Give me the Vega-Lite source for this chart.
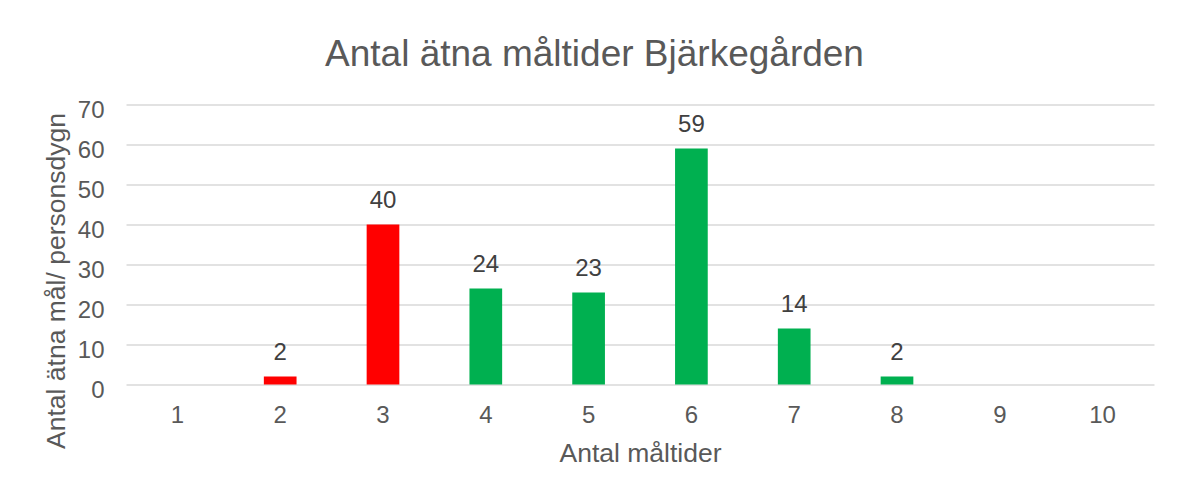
{
  "$schema": "https://vega.github.io/schema/vega-lite/v6.json",
  "width": 1028,
  "height": 280,
  "autosize": {"type": "none"},
  "padding": {"left": 126, "top": 104.5, "right": 28, "bottom": 111.5},
  "background": "white",
  "title": {
    "text": "Antal ätna måltider Bjärkegården",
    "anchor": "middle",
    "frame": "group",
    "dx": -45.5,
    "dy": 44,
    "baseline": "alphabetic",
    "offset": 39.5,
    "font": "Liberation Sans",
    "fontSize": 37,
    "fontWeight": "normal",
    "color": "#595959"
  },
  "data": {
    "values": [
      {"antal": 1, "värde": 0, "grupp": "under 4"},
      {"antal": 2, "värde": 2, "grupp": "under 4"},
      {"antal": 3, "värde": 40, "grupp": "under 4"},
      {"antal": 4, "värde": 24, "grupp": "4 eller fler"},
      {"antal": 5, "värde": 23, "grupp": "4 eller fler"},
      {"antal": 6, "värde": 59, "grupp": "4 eller fler"},
      {"antal": 7, "värde": 14, "grupp": "4 eller fler"},
      {"antal": 8, "värde": 2, "grupp": "4 eller fler"},
      {"antal": 9, "värde": 0, "grupp": "4 eller fler"},
      {"antal": 10, "värde": 0, "grupp": "4 eller fler"}
    ]
  },
  "encoding": {
    "x": {
      "field": "antal",
      "type": "ordinal",
      "sort": "ascending",
      "scale": {"paddingInner": 0, "paddingOuter": 0},
      "axis": {
        "title": "Antal måltider",
        "labelAngle": 0,
        "ticks": false,
        "domain": false,
        "grid": false,
        "labelFont": "Liberation Sans",
        "labelFontSize": 24,
        "labelColor": "#595959",
        "labelBaseline": "alphabetic",
        "labelPadding": 37.5,
        "titleFont": "Liberation Sans",
        "titleFontSize": 26.5,
        "titleFontWeight": "normal",
        "titleColor": "#595959",
        "titleBaseline": "alphabetic",
        "titleAnchor": "middle",
        "titleY": 77
      }
    },
    "y": {
      "field": "värde",
      "type": "quantitative",
      "scale": {"domain": [0, 70], "nice": false},
      "axis": {
        "title": "Antal ätna mål/ personsdygn",
        "values": [0, 10, 20, 30, 40, 50, 60, 70],
        "ticks": false,
        "domain": false,
        "grid": true,
        "gridColor": "#d9d9d9",
        "gridWidth": 1.4,
        "labelFont": "Liberation Sans",
        "labelFontSize": 24,
        "labelColor": "#595959",
        "labelBaseline": "alphabetic",
        "labelOffset": 12.5,
        "labelPadding": 22,
        "titleFont": "Liberation Sans",
        "titleFontSize": 26.5,
        "titleFontWeight": "normal",
        "titleColor": "#595959",
        "titleAngle": -90,
        "titleAlign": "center",
        "titleBaseline": "alphabetic",
        "titleX": -62,
        "titleY": 176
      }
    }
  },
  "layer": [
    {
      "mark": {"type": "bar", "width": {"band": 0.318}},
      "encoding": {
        "color": {
          "field": "grupp",
          "type": "nominal",
          "scale": {"domain": ["under 4", "4 eller fler"], "range": ["#FF0000", "#00B050"]},
          "legend": null
        }
      }
    },
    {
      "transform": [{"filter": "datum['värde'] > 0"}],
      "mark": {
        "type": "text",
        "baseline": "alphabetic",
        "dy": -17,
        "font": "Liberation Sans",
        "fontSize": 24,
        "color": "#404040"
      },
      "encoding": {
        "text": {"field": "värde", "type": "quantitative"}
      }
    }
  ],
  "config": {
    "view": {"stroke": null}
  }
}
